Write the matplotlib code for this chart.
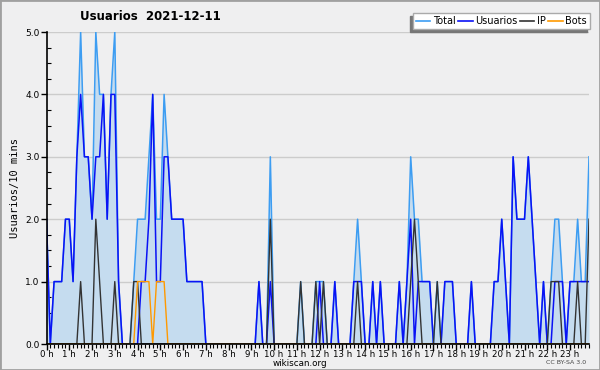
import numpy as np
import matplotlib
matplotlib.use('Agg')
import matplotlib.pyplot as plt
from matplotlib.patches import Rectangle
from matplotlib.lines import Line2D

# 10 minute steps over the day (6 per hour)
hours = [f'{h} h' for h in range(24)]

total = [2, 0, 1, 1, 1, 2,  2, 1, 3, 5, 3, 3,  2, 5, 4, 4, 2, 4,  5, 1, 0, 0, 0, 1,
         2, 2, 2, 3, 4, 2,  2, 4, 3, 2, 2, 2,  2, 1, 1, 1, 1, 1,  0, 0, 0, 0, 0, 0,
         0, 0, 0, 0, 0, 0,  0, 0, 1, 0, 0, 3,  0, 0, 0, 0, 0, 0,  0, 1, 0, 0, 0, 1,
         1, 1, 0, 0, 1, 0,  0, 0, 0, 1, 2, 1,  0, 0, 1, 0, 1, 0,  0, 0, 0, 1, 0, 1,
         3, 2, 2, 1, 1, 1,  0, 1, 0, 1, 1, 1,  0, 0, 0, 0, 1, 0,  0, 0, 0, 0, 1, 1,
         2, 1, 0, 3, 2, 2,  2, 3, 2, 1, 0, 1,  0, 1, 2, 2, 1, 0,  1, 1, 2, 1, 1, 3]

usuarios = [2, 0, 1, 1, 1, 2,  2, 1, 3, 4, 3, 3,  2, 3, 3, 4, 2, 4,  4, 1, 0, 0, 0, 0,
            0, 1, 1, 2, 4, 1,  1, 3, 3, 2, 2, 2,  2, 1, 1, 1, 1, 1,  0, 0, 0, 0, 0, 0,
            0, 0, 0, 0, 0, 0,  0, 0, 1, 0, 0, 1,  0, 0, 0, 0, 0, 0,  0, 0, 0, 0, 0, 0,
            1, 0, 0, 0, 1, 0,  0, 0, 0, 1, 1, 1,  0, 0, 1, 0, 1, 0,  0, 0, 0, 1, 0, 1,
            2, 0, 1, 1, 1, 1,  0, 0, 0, 1, 1, 1,  0, 0, 0, 0, 1, 0,  0, 0, 0, 0, 1, 1,
            2, 1, 0, 3, 2, 2,  2, 3, 2, 1, 0, 1,  0, 0, 1, 1, 1, 0,  1, 1, 1, 1, 1, 1]

ip = [0, 0, 0, 0, 0, 0,  0, 0, 0, 1, 0, 0,  0, 2, 1, 0, 0, 0,  1, 0, 0, 0, 0, 1,
      1, 0, 0, 0, 0, 0,  0, 0, 0, 0, 0, 0,  0, 0, 0, 0, 0, 0,  0, 0, 0, 0, 0, 0,
      0, 0, 0, 0, 0, 0,  0, 0, 0, 0, 0, 2,  0, 0, 0, 0, 0, 0,  0, 1, 0, 0, 0, 1,
      0, 1, 0, 0, 0, 0,  0, 0, 0, 0, 1, 0,  0, 0, 0, 0, 0, 0,  0, 0, 0, 0, 0, 0,
      1, 2, 1, 0, 0, 0,  0, 1, 0, 0, 0, 0,  0, 0, 0, 0, 0, 0,  0, 0, 0, 0, 0, 0,
      0, 0, 0, 0, 0, 0,  0, 0, 0, 0, 0, 0,  0, 1, 1, 1, 0, 0,  0, 0, 1, 0, 0, 2]

bots = [0, 0, 0, 0, 0, 0,  0, 0, 0, 0, 0, 0,  0, 0, 0, 0, 0, 0,  0, 0, 0, 0, 0, 0,
        1, 1, 1, 1, 0, 1,  1, 1, 0, 0, 0, 0,  0, 0, 0, 0, 0, 0] + [0] * 102

BG = '#efeff0'
c_total = '#3d9df2'
c_users = '#0a12f5'
c_ip = '#333333'
c_bots = '#ff9900'

x = np.arange(len(total))

fig = plt.figure(figsize=(6, 3.7), dpi=100, facecolor=BG)
ax = fig.add_axes([46.5 / 600, 1 - 344 / 370, (589 - 46.5) / 600, 312 / 370])
ax.set_facecolor(BG)

ax.fill_between(x, total, color='#c5dcef', lw=0, zorder=1)
ax.plot(x, total, color=c_total, lw=1.1, zorder=2)
ax.plot(x, usuarios, color=c_users, lw=1.1, zorder=3)
ax.plot(x, ip, color=c_ip, lw=1.0, zorder=4)
ax.plot(x, bots, color=c_bots, lw=1.0, zorder=5)

ax.set_xlim(0, len(total) - 1)
ax.set_ylim(0, 5)
ax.set_xticks(np.arange(0, 144, 6))
ax.set_xticklabels(hours, fontsize=6.2)
ax.set_xticks(x, minor=True)
ax.set_yticks(np.arange(0, 6))
ax.set_yticklabels([f'{v:.1f}' for v in range(6)], fontsize=6.5)
ax.set_yticks(np.arange(0, 5.01, 0.25), minor=True)
ax.tick_params(axis='x', which='major', length=4, width=1, pad=0)
ax.tick_params(axis='x', which='minor', length=3, width=0.8)
ax.tick_params(axis='y', which='major', length=4, width=1, pad=1)
ax.tick_params(axis='y', which='minor', direction='in', length=3, width=0.8)
ax.grid(axis='y', which='major', color='#cccccc', lw=1)
ax.set_axisbelow(True)
for s in ['top', 'right']:
    ax.spines[s].set_visible(False)
for s in ['left', 'bottom']:
    ax.spines[s].set_linewidth(1.2)
    ax.spines[s].set_zorder(6)

ax.set_ylabel('Usuarios/10 mins', family='DejaVu Sans Mono', fontsize=7.5, labelpad=4)

fig.text(150 / 600, 1 - 17 / 370, 'Usuarios  2021-12-11', fontsize=8.5,
         fontweight='bold', ha='center', va='center')
fig.text(300 / 600, 1 - 364 / 370, 'wikiscan.org', fontsize=6.3, ha='center', va='center')
fig.text(566 / 600, 1 - 363 / 370, 'CC BY-SA 3.0', fontsize=4.5, ha='center',
         va='center', color='#444444')

handles = [Line2D([], [], color=c, lw=1.2) for c in [c_total, c_users, c_ip, c_bots]]
leg = fig.legend(handles, ['Total', 'Usuarios', 'IP', 'Bots'], ncol=4,
                 loc='upper right', bbox_to_anchor=(590 / 600, 1 - 13 / 370),
                 fontsize=7, frameon=True, fancybox=False, framealpha=1,
                 edgecolor='#aaaaaa', handlelength=1.5, handletextpad=0.3,
                 columnspacing=0.2, borderpad=0.3, borderaxespad=0)
leg.get_frame().set_linewidth(1)
leg.set_zorder(10)

# drop shadow down-left of the legend box
fig.canvas.draw()
bb = leg.get_window_extent().transformed(fig.transFigure.inverted())
fig.patches.append(Rectangle((bb.x0 - 3 / 600, bb.y0 - 3 / 370), bb.width, bb.height,
                             transform=fig.transFigure, color='#777777', zorder=9))

# outer frame
fig.patches.append(Rectangle((0, 0), 1, 1, transform=fig.transFigure, fill=False,
                             edgecolor='#a0a0a0', lw=2, zorder=20))

fig.savefig('out.png', dpi=100, facecolor=BG)
